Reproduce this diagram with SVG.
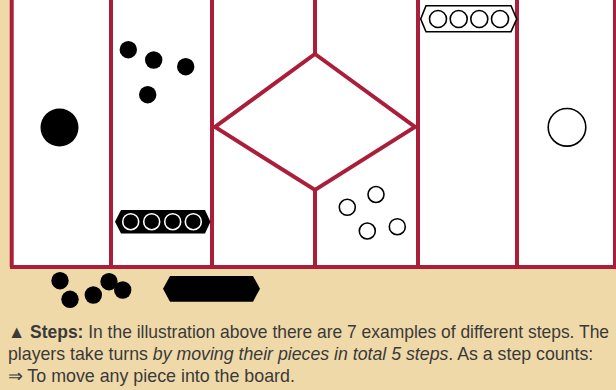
<svg xmlns="http://www.w3.org/2000/svg" width="616" height="390" viewBox="0 0 616 390">
  <style>
    .ln { stroke: #AB1E3A; stroke-width: 4; fill: none; stroke-linejoin: miter; }
    .blk { fill: #000; }
    .open { fill: #fff; stroke: #000; stroke-width: 1.6; }
    .inv { fill: #000; stroke: #fff; stroke-width: 1.6; }
    .txt { font-family: "Liberation Sans", Arial, sans-serif; font-size: 18px; fill: #3a3a3a; }
  </style>
  <rect x="0" y="0" width="616" height="390" fill="#EFD9A8"/>
  <rect x="11.5" y="0" width="610" height="267" fill="#fff"/>

  <g id="board" class="ln">
    <line x1="11.7" y1="0" x2="11.7" y2="267"/>
    <line x1="111" y1="0" x2="111" y2="267"/>
    <line x1="212" y1="0" x2="212" y2="267"/>
    <line x1="418" y1="0" x2="418" y2="267"/>
    <line x1="517" y1="0" x2="517" y2="267"/>
    <line x1="615" y1="0" x2="615" y2="267"/>
    <line x1="315" y1="0" x2="315" y2="54"/>
    <line x1="315" y1="190" x2="315" y2="267"/>
    <polygon points="315,54 415,127 315,190 215,127"/>
    <line x1="10" y1="267" x2="616" y2="267"/>
  </g>

  <g id="big-black">
    <circle class="blk" cx="59.5" cy="127.5" r="19"/>
  </g>
  <g id="small-black-dots">
    <circle class="blk" cx="128.3" cy="49.7" r="8.7"/>
    <circle class="blk" cx="153.7" cy="60" r="8.7"/>
    <circle class="blk" cx="185.7" cy="66.7" r="8.7"/>
    <circle class="blk" cx="147.7" cy="94.7" r="8.7"/>
  </g>
  <g id="black-stack">
    <polygon class="blk" points="115,221.7 121,210 205,210 210.5,221.7 205,233.5 121,233.5"/>
    <circle class="inv" cx="130.7" cy="221.7" r="8"/>
    <circle class="inv" cx="151.7" cy="221.7" r="8"/>
    <circle class="inv" cx="172.7" cy="221.7" r="8"/>
    <circle class="inv" cx="193.3" cy="221.7" r="8"/>
  </g>
  <g id="white-stack">
    <polygon class="open" points="420.7,19 426,5.7 511,5.7 516.7,19 511,31.7 426,31.7"/>
    <circle class="open" cx="438" cy="19" r="8.5"/>
    <circle class="open" cx="458.7" cy="19" r="8.5"/>
    <circle class="open" cx="479.3" cy="19" r="8.5"/>
    <circle class="open" cx="500" cy="19" r="8.5"/>
  </g>
  <g id="big-white">
    <circle class="open" cx="567" cy="127.3" r="18.8"/>
  </g>
  <g id="small-white-dots">
    <circle class="open" cx="347.3" cy="207.3" r="8"/>
    <circle class="open" cx="376" cy="194.5" r="8"/>
    <circle class="open" cx="367.3" cy="231" r="8"/>
    <circle class="open" cx="397.3" cy="226.7" r="8"/>
  </g>
  <g id="outside-dots">
    <circle class="blk" cx="60" cy="280.7" r="8.7"/>
    <circle class="blk" cx="70" cy="299.3" r="8.7"/>
    <circle class="blk" cx="93.3" cy="295" r="8.7"/>
    <circle class="blk" cx="109" cy="281.7" r="8.7"/>
    <circle class="blk" cx="122.7" cy="290" r="8.7"/>
  </g>
  <g id="outside-stack">
    <polygon class="blk" points="163,288.7 170,276 253,276 260,288.7 253,301.7 170,301.7"/>
  </g>

  <g id="caption" class="txt" transform="translate(8,0) scale(0.88,1)">
    <text x="0" y="338" textLength="683" lengthAdjust="spacingAndGlyphs"><tspan font-weight="bold">▲ Steps:</tspan> In the illustration above there are 7 examples of different steps. The</text>
    <text x="0" y="360" textLength="665" lengthAdjust="spacingAndGlyphs">players take turns <tspan font-style="italic">by moving their pieces in total 5 steps</tspan>. As a step counts:</text>
    <text x="0" y="382" textLength="326" lengthAdjust="spacingAndGlyphs">⇒ To move any piece into the board.</text>
  </g>
</svg>
